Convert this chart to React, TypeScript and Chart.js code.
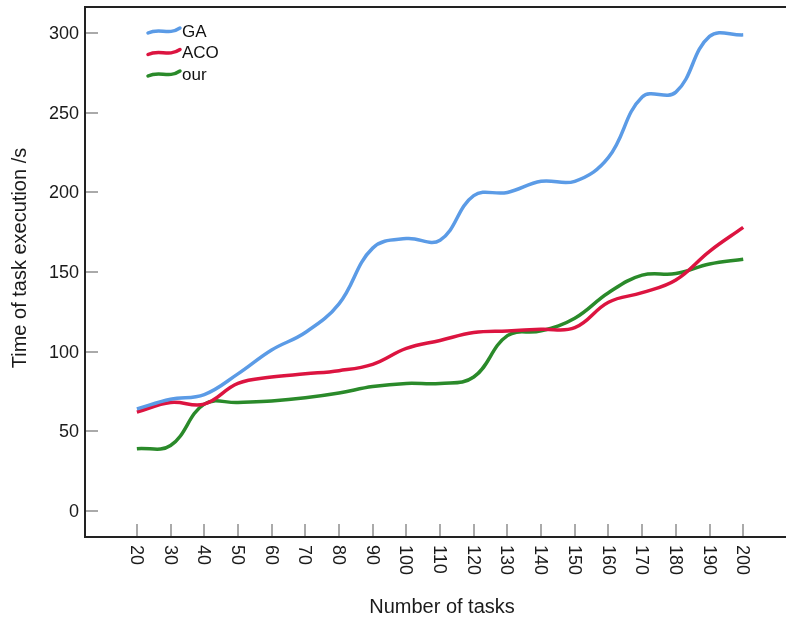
import React, { useEffect, useRef } from "react";
import { Chart, registerables } from "chart.js";

Chart.register(...registerables);

const tasks = [20, 30, 40, 50, 60, 70, 80, 90, 100, 110, 120, 130, 140, 150, 160, 170, 180, 190, 200];
const gaValues = [64, 70, 73, 86, 101, 112, 130, 165, 171, 170, 198, 200, 207, 207, 222, 260, 263, 298, 299];
const acoValues = [62, 68, 67, 80, 84, 86, 88, 92, 102, 107, 112, 113, 114, 115, 131, 137, 145, 163, 178];
const ourValues = [39, 41, 67, 68, 69, 71, 74, 78, 80, 80, 84, 110, 113, 121, 137, 148, 149, 155, 158];
const yTickValues = [0, 50, 100, 150, 200, 250, 300];
const seriesNames = ["GA", "ACO", "our"];
const seriesColors = ["#5b9be6", "#dc1440", "#2a8a2a"];
const xTitle = "Number of tasks";
const yTitle = "Time of task execution /s";

const FONT = "'Liberation Sans', Arial, sans-serif";

const decorPlugin = {
  id: "decor",
  afterDraw(chart: any) {
    const ctx = chart.ctx;
    const area = chart.chartArea;
    const xs = chart.scales.x;
    const ys = chart.scales.y;
    ctx.save();
    // top border
    ctx.strokeStyle = "#222";
    ctx.lineWidth = 2;
    ctx.beginPath();
    ctx.moveTo(area.left, area.top);
    ctx.lineTo(area.right, area.top);
    ctx.stroke();

    // inward tick marks
    ctx.strokeStyle = "#aaaaaa";
    ctx.lineWidth = 2;
    yTickValues.forEach((v) => {
      const py = Math.round(ys.getPixelForValue(v));
      ctx.beginPath();
      ctx.moveTo(area.left + 1, py);
      ctx.lineTo(area.left + 13, py);
      ctx.stroke();
    });
    tasks.forEach((t) => {
      const px = Math.round(xs.getPixelForValue(t));
      ctx.beginPath();
      ctx.moveTo(px, area.bottom - 13);
      ctx.lineTo(px, area.bottom - 1);
      ctx.stroke();
    });

    // y tick labels
    ctx.fillStyle = "#1a1a1a";
    ctx.font = `18px ${FONT}`;
    ctx.textAlign = "right";
    ctx.textBaseline = "middle";
    yTickValues.forEach((v) => {
      ctx.fillText(String(v), area.left - 6, ys.getPixelForValue(v) + 1);
    });

    // x tick labels (rotated clockwise)
    ctx.textAlign = "left";
    tasks.forEach((t) => {
      const px = xs.getPixelForValue(t);
      ctx.save();
      ctx.translate(px - 1, area.bottom + 8);
      ctx.rotate(Math.PI / 2);
      ctx.fillText(String(t), 0, 0);
      ctx.restore();
    });

    // axis titles
    ctx.font = `20px ${FONT}`;
    ctx.textAlign = "center";
    ctx.textBaseline = "middle";
    ctx.fillText(xTitle, 442, 607);
    ctx.save();
    ctx.translate(20, 258);
    ctx.rotate(-Math.PI / 2);
    ctx.fillText(yTitle, 0, 0);
    ctx.restore();

    // legend
    ctx.font = `17px ${FONT}`;
    ctx.textAlign = "left";
    ctx.textBaseline = "middle";
    seriesNames.forEach((name, i) => {
      const cy = 31 + i * 21.5;
      const x0 = 148;
      ctx.strokeStyle = seriesColors[i];
      ctx.lineWidth = 3.5;
      ctx.lineCap = "round";
      ctx.beginPath();
      ctx.moveTo(x0, cy + 2);
      ctx.bezierCurveTo(x0 + 12, cy - 4, x0 + 20, cy + 5, x0 + 32, cy - 3);
      ctx.stroke();
      ctx.fillStyle = "#111";
      ctx.fillText(name, x0 + 34, cy + 1);
    });
    ctx.restore();
  },
};

export default function App() {
  const ref = useRef<HTMLCanvasElement | null>(null);
  useEffect(() => {
    if (!ref.current) return;
    const mk = (vals: number[]) => tasks.map((t, i) => ({ x: t, y: vals[i] }));
    const chart = new Chart(ref.current, {
      type: "line",
      data: {
        datasets: [gaValues, acoValues, ourValues].map((vals, i) => ({
          label: seriesNames[i],
          data: mk(vals),
          borderColor: seriesColors[i],
          backgroundColor: seriesColors[i],
          borderWidth: 3.5,
          pointRadius: 0,
          tension: 0.4,
          fill: false,
        })),
      },
      options: {
        animation: false,
        responsive: false,
        maintainAspectRatio: false,
        layout: { padding: { top: 7, right: 0, left: 0, bottom: 0 } },
        plugins: { legend: { display: false }, tooltip: { enabled: false } },
        scales: {
          x: {
            type: "linear",
            min: 4.6,
            max: 212.7,
            grid: { display: false, drawTicks: false },
            border: { display: true, color: "#222", width: 2 },
            ticks: { display: false },
            afterBuildTicks: (s: any) => {
              s.ticks = tasks.map((v) => ({ value: v }));
            },
            afterFit: (s: any) => {
              s.height = 84;
            },
          },
          y: {
            type: "linear",
            min: -16.5,
            max: 316.5,
            grid: { display: false, drawTicks: false },
            border: { display: true, color: "#222", width: 2 },
            ticks: { display: false },
            afterBuildTicks: (s: any) => {
              s.ticks = yTickValues.map((v) => ({ value: v }));
            },
            afterFit: (s: any) => {
              s.width = 85;
            },
          },
        },
      },
      plugins: [decorPlugin],
    });
    return () => chart.destroy();
  }, []);
  return (
    <div style={{ position: "absolute", left: 0, top: 0, width: 786, height: 621, background: "#fff" }}>
      <canvas ref={ref} width={786} height={621} style={{ width: 786, height: 621, display: "block" }} />
    </div>
  );
}
